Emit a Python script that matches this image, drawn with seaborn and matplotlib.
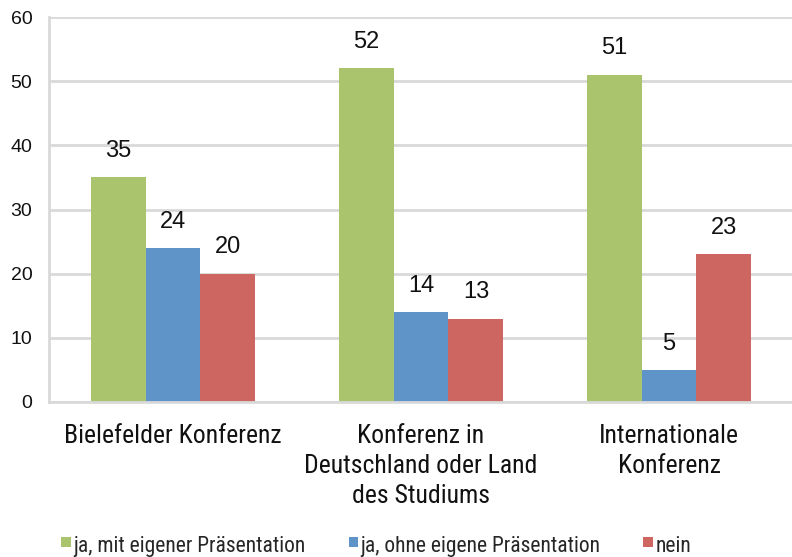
import matplotlib
matplotlib.use("Agg")
import matplotlib.pyplot as plt
import seaborn as sns
import pandas as pd
from matplotlib.patches import Patch, Rectangle
from matplotlib.legend_handler import HandlerPatch

categories = ["Bielefelder Konferenz", "Konferenz in\nDeutschland oder Land\ndes Studiums", "Internationale\nKonferenz"]
series = ["ja, mit eigener Präsentation", "ja, ohne eigene Präsentation", "nein"]
values_mit = [35, 52, 51]
values_ohne = [24, 14, 5]
values_nein = [20, 13, 23]
colors = ["#A9C46C", "#5E94C8", "#CD6660"]
yticks = [0, 10, 20, 30, 40, 50, 60]

rows = []
for s, vals in zip(series, [values_mit, values_ohne, values_nein]):
    for c, v in zip(categories, vals):
        rows.append({"Kategorie": c, "Serie": s, "Wert": v})
df = pd.DataFrame(rows)

sns.set_theme(style="white")
narrow = ["Liberation Sans Narrow", "Roboto Condensed", "DejaVu Sans"]
plt.rcParams["font.family"] = narrow

fig = plt.figure(figsize=(7.92, 5.57), dpi=100)
ax = fig.add_axes([49 / 792, 155 / 557, 744 / 792, 385 / 557])

sns.barplot(data=df, x="Kategorie", y="Wert", hue="Serie", order=categories,
            hue_order=series, palette=colors, width=0.665, gap=0,
            saturation=1, linewidth=0, ax=ax, legend=False, errorbar=None)

for cont in ax.containers:
    ax.bar_label(cont, padding=11, fontsize=17, color="#111111",
                 family=["Liberation Sans", "DejaVu Sans"])

ax.set_ylim(0, 60)
ax.set_xlim(-0.5, 2.5)
ax.set_yticks(yticks)
ax.set_yticklabels([str(t) for t in yticks], fontsize=14, color="#111111",
                   family=["Liberation Sans", "DejaVu Sans"])
ax.grid(axis="y", color="#D9D9D9", linewidth=2)
ax.set_axisbelow(True)
for side in ["top", "right"]:
    ax.spines[side].set_visible(False)
ax.spines["left"].set_color("#D9D9D9")
ax.spines["left"].set_linewidth(2)
ax.spines["bottom"].set_color("#D9D9D9")
ax.spines["bottom"].set_linewidth(2)
ax.tick_params(axis="y", length=5, width=2, color="#D9D9D9", pad=7)
ax.tick_params(axis="x", which="major", length=0, pad=16)
ax.set_xticks([-0.5, 0.5, 1.5, 2.5], minor=True)
ax.tick_params(axis="x", which="minor", length=7, width=2, color="#D9D9D9")
ax.set_xticklabels(categories, fontsize=18.5, color="#111111", linespacing=1.3)
ax.set_xlabel("")
ax.set_ylabel("")


def raised_square(legend, orig_handle, xdescent, ydescent, width, height, fontsize):
    return Rectangle((-xdescent, -ydescent + height * 0.35), width, width)


handles = [Patch(facecolor=c, edgecolor="none") for c in colors]
fig.legend(handles, series, loc="lower left", bbox_to_anchor=(42 / 792, -0.035),
           ncol=3, frameon=False, fontsize=15.5, handlelength=0.45, handleheight=0.7,
           handletextpad=0.1, columnspacing=2.0,
           handler_map={Patch: HandlerPatch(patch_func=raised_square)})

fig.savefig("out.png", dpi=100)
